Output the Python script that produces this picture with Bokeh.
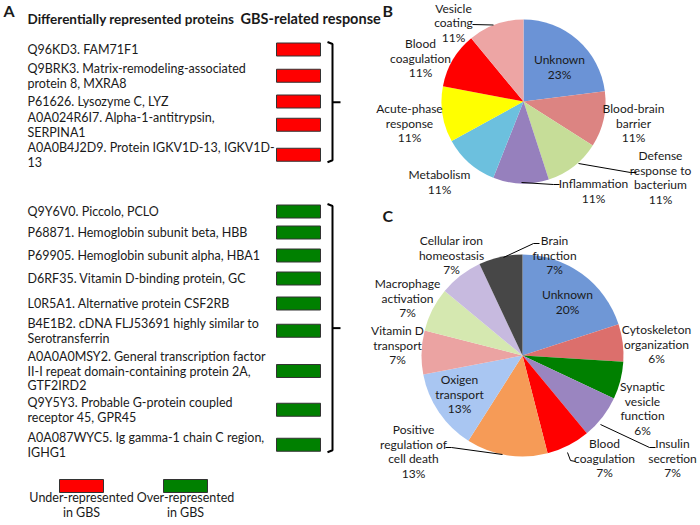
from bokeh.plotting import figure
from bokeh.models import Range1d, ColumnDataSource
from bokeh.embed import file_html
from bokeh.resources import INLINE
from bokeh.core.properties import value

# ---------------- data ----------------
under_proteins = [
    "Q96KD3. FAM71F1",
    "Q9BRK3. Matrix-remodeling-associated\nprotein 8, MXRA8",
    "P61626.  Lysozyme C, LYZ",
    "A0A024R6I7.  Alpha-1-antitrypsin,\nSERPINA1",
    "A0A0B4J2D9.  Protein IGKV1D-13, IGKV1D-\n13",
]
over_proteins = [
    "Q9Y6V0. Piccolo, PCLO",
    "P68871.  Hemoglobin subunit beta, HBB",
    "P69905.  Hemoglobin subunit alpha, HBA1",
    "D6RF35.  Vitamin D-binding protein, GC",
    "L0R5A1.  Alternative protein CSF2RB",
    "B4E1B2.  cDNA FLJ53691 highly similar to\nSerotransferrin",
    "A0A0A0MSY2. General transcription factor\nII-I repeat domain-containing protein 2A,\nGTF2IRD2",
    "Q9Y5Y3.  Probable G-protein coupled\nreceptor 45, GPR45",
    "A0A087WYC5.  Ig gamma-1 chain C region,\nIGHG1",
]
legend_labels = ["Under-represented\nin GBS", "Over-represented\nin GBS"]

b_categories = ["Unknown", "Blood-brain\nbarrier", "Defense\nresponse to\nbacterium",
                "Inflammation", "Metabolism", "Acute-phase\nresponse",
                "Blood\ncoagulation", "Vesicle\ncoating"]
b_values = [23, 11, 11, 11, 11, 11, 11, 11]

c_categories = ["Unknown", "Cytoskeleton\norganization", "Synaptic\nvesicle\nfunction",
                "Insulin\nsecretion", "Blood\ncoagulation",
                "Positive\nregulation of\ncell death", "Oxigen\ntransport",
                "Vitamin D\ntransport", "Macrophage\nactivation",
                "Cellular iron\nhomeostasis", "Brain\nfunction"]
c_values = [20, 6, 6, 7, 7, 13, 13, 7, 7, 7, 7]

# ---------------- styles / layout ----------------
FONT = "Lato"
TXT = "#1a1a1a"
RED = "#ff0000"
GREEN = "#008000"

b_colors = ["#6b93d6", "#dc8482", "#c6dd98", "#9680bd", "#6cc0de", "#ffff00", "#ff0000", "#eda5a4"]
c_colors = ["#6f97d6", "#dc6f6c", "#008000", "#9a85c0", "#ff0000", "#f69b57", "#a9c6f2",
            "#eba3a2", "#d5e8b0", "#c7badf", "#474747"]

b_center, b_radius = (523, 101), 82
c_center, c_radius = (522, 355), 101

# label anchors (center x, first-line y)
b_label_pos = [(559, 59), (633, 108), (660, 155), (593, 183), (439, 174),
               (409, 108), (420, 43), (453, 7.5)]
c_label_pos = [(567, 294), (656, 329), (642, 386), (672, 443), (604, 443),
               (413, 429), (459, 379), (397, 330), (407, 283), (451, 240), (554, 240)]
b_leaders = [None, None, [(636, 172), (630, 172), (578, 163)],
             [(559, 184), (553, 184), (521, 182)], None, None, None,
             [(472, 24), (493, 24.5)]]
c_leaders = [None, None, None, [(655, 447), (649, 447), (600, 424)],
             [(575, 461), (570, 460), (567, 452)],
             [(445, 447), (451, 447), (502, 454)], None, None, None, None,
             [(503, 257), (533, 243), (539, 243)]]

under_y = [49, 68, 101, 117, 147]
over_y = [211, 232, 255, 278, 303, 323, 356, 402, 437]
LINE_H = 14.5
TEXT_X = 27
BAR_X, BAR_W, BAR_H = 298, 44, 13
BRACKET_X = 332

p = figure(width=700, height=525, output_backend="svg", toolbar_location=None,
           x_range=Range1d(0, 700), y_range=Range1d(-525, 0),
           min_border=0, outline_line_color=None)
p.axis.visible = False
p.grid.visible = False
p.background_fill_color = "white"


def Y(v):
    return -v


def draw_lines(text, x, y0, size="12px", align="left", style="normal", color=TXT):
    lines = text.split("\n")
    xs = [x] * len(lines)
    ys = [Y(y0 + i * LINE_H) for i in range(len(lines))]
    p.text(x=xs, y=ys, text=lines, text_font=value(FONT), text_font_size=size,
           text_align=align, text_baseline="middle", text_font_style=style,
           text_color=color)


# ---------------- Panel A ----------------
draw_lines("A", 3, 10, size="16px", style="bold")
draw_lines("Differentially represented proteins", 27, 18, size="13.5px", style="bold")
draw_lines("GBS-related response", 240, 18, size="14.5px", style="bold")


def protein_block(labels, ys, color):
    centers = []
    for lab, y0 in zip(labels, ys):
        draw_lines(lab, TEXT_X, y0, size="12.5px")
        n = len(lab.split("\n"))
        centers.append(y0 + (n - 1) * LINE_H / 2)
    src = ColumnDataSource(dict(x=[BAR_X] * len(centers), y=[Y(c) for c in centers]))
    p.rect(x="x", y="y", width=BAR_W, height=BAR_H, source=src, fill_color=color,
           line_color="#333333", line_width=1)
    top = centers[0] - BAR_H / 2 - 1
    bot = centers[-1] + BAR_H / 2 + 1
    mid = (top + bot) / 2
    p.line([BRACKET_X - 5, BRACKET_X, BRACKET_X, BRACKET_X - 5],
           [Y(top), Y(top + 2), Y(bot - 2), Y(bot)], line_color="black", line_width=2)
    p.line([BRACKET_X, BRACKET_X + 8], [Y(mid), Y(mid)], line_color="black", line_width=2)


protein_block(under_proteins, under_y, RED)
protein_block(over_proteins, over_y, GREEN)

# legend
leg_x = [81, 185]
leg_cols = [RED, GREEN]
p.rect(x=leg_x, y=[Y(485.5)] * 2, width=44, height=13, fill_color=leg_cols,
       line_color="#333333", line_width=1)
for lx, lab in zip(leg_x, legend_labels):
    draw_lines(lab, lx, 497, size="12.5px", align="center")


# ---------------- Pies ----------------
def pie(center, radius, values, colors, cats, label_pos, leaders):
    total = float(sum(values))
    starts, ends = [], []
    cum = 0.0
    for v in values:
        starts.append(90 - cum / total * 360)
        cum += v
        ends.append(90 - cum / total * 360)
    src = ColumnDataSource(dict(start=starts, end=ends, color=colors))
    p.wedge(x=center[0], y=Y(center[1]), radius=radius, start_angle="start",
            end_angle="end", start_angle_units="deg", end_angle_units="deg",
            direction="clock", fill_color="color", line_color=None, source=src)
    for cat, v, pos, ld in zip(cats, values, label_pos, leaders):
        draw_lines(cat + "\n" + f"{v}%", pos[0], pos[1], align="center")
        if ld:
            p.line([q[0] for q in ld], [Y(q[1]) for q in ld], line_color="black", line_width=1)


draw_lines("B", 382, 10, size="16px", style="bold")
pie(b_center, b_radius, b_values, b_colors, b_categories, b_label_pos, b_leaders)
draw_lines("C", 382, 215, size="16px", style="bold")
pie(c_center, c_radius, c_values, c_colors, c_categories, c_label_pos, c_leaders)

open("out.html", "w").write(file_html(p, INLINE))
